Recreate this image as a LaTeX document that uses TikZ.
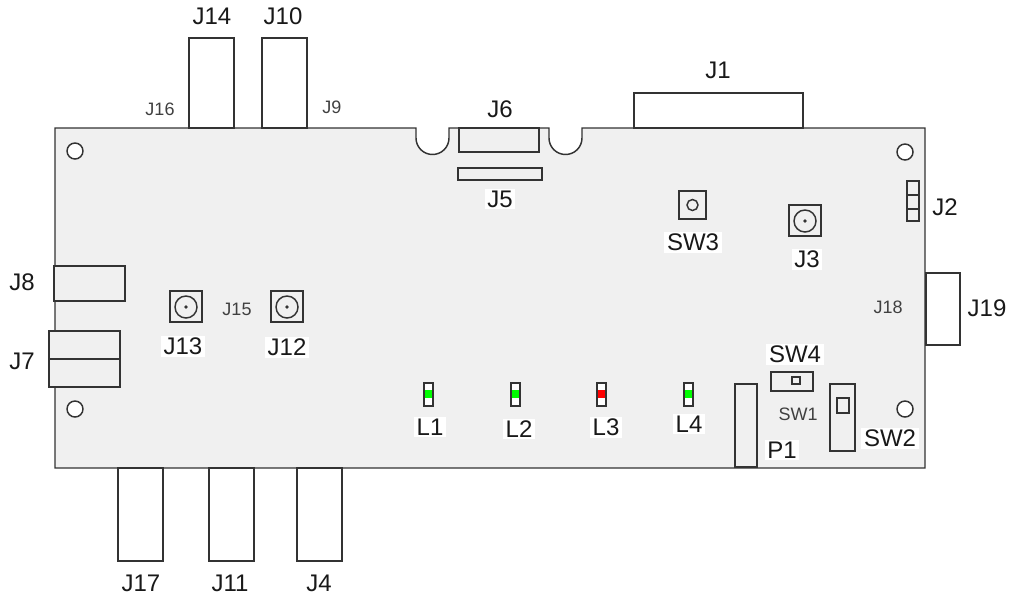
\documentclass[tikz,border=0pt]{standalone}
\usepackage{fontspec}
\setmainfont{Liberation Sans}
\tikzset{
	part/.style={draw=cline,line width=1.1pt,fill=cboard},
	outpart/.style={draw=cline,line width=1.1pt,fill=white},
	lbl/.style={fill=white,inner xsep=2pt,inner ysep=1.5pt,text=clabel,font=\fontsize{18}{19}\selectfont},
	lblsmall/.style={inner sep=0pt,text=csmall,font=\fontsize{13.5}{14}\selectfont},
}
\begin{document}
\begin{tikzpicture}[x=0.75pt,y=-0.75pt]
			\definecolor{cline}{rgb}{0.2,0.2,0.2}
			\definecolor{cboard}{rgb}{0.941,0.941,0.941}
			\definecolor{clabel}{rgb}{0.1,0.1,0.1}
			\definecolor{csmall}{rgb}{0.25,0.25,0.25}
			\definecolor{cgreen}{rgb}{0.0,1.0,0.0}
			\definecolor{cred}{rgb}{1.0,0.0,0.0}
			%
			\useasboundingbox (0,0) rectangle (1009,597);
			%
			\draw[part] (55,128) -- (416,128) -- (416,138) arc (180:0:16.5) -- (449,128) -- (549,128) -- (549,138) arc (180:0:16.5) -- (582,128) -- (925,128) -- (925,468) -- (55,468) -- cycle;
			%
			\draw[outpart] (189,38) rectangle (234,128);
			\draw[outpart] (262,38) rectangle (307,128);
			\draw[outpart] (634,93) rectangle (803,128);
			\draw[part] (459,128) rectangle (539,152);
			\draw[part] (458,168) rectangle (542,180);
			\draw[part] (54,266) rectangle (125,301);
			\draw[part] (49,331) rectangle (120,387);
			\draw[part] (49,359) -- (120,359);
			\draw[outpart] (926,273) rectangle (960,345);
			\draw[outpart] (118,468) rectangle (163,561);
			\draw[outpart] (209,468) rectangle (254,561);
			\draw[outpart] (297,468) rectangle (342,561);
			\draw[part] (735,384) rectangle (757,467);
			\draw[part] (771,372) rectangle (813,391);
			\draw[part] (792,377) rectangle (800,384);
			\draw[part] (830,384) rectangle (855,451);
			\draw[part] (837,398) rectangle (849,413);
			\draw[part] (907,181) rectangle (919,221);
			\draw[part] (907,195) -- (919,195);
			\draw[part] (907,209) -- (919,209);
			%
			\draw[part] (679,191) rectangle (706,219);
			\draw[part] (692.5,205) circle (5.5);
			\draw[part] (789,205) rectangle (821,236);
			\draw[part] (805,221) circle (11);
			\fill[cline] (805,221) circle (1.8);
			\draw[part] (170,291) rectangle (202,322);
			\draw[part] (186,307) circle (11);
			\fill[cline] (186,307) circle (1.8);
			\draw[part] (271,291) rectangle (303,322);
			\draw[part] (287,307) circle (11);
			\fill[cline] (287,307) circle (1.8);
			%
			\draw[outpart] (75,151) circle (8);
			\draw[outpart] (905,152) circle (8);
			\draw[outpart] (75,409) circle (8);
			\draw[outpart] (905,409) circle (8);
			%
			\foreach \ledx/\ledc in {424/cgreen,511/cgreen,597/cred,684/cgreen}{
				\draw[outpart] (\ledx,383) rectangle ++(9,23);
				\fill[\ledc] (\ledx+1,390) rectangle ++(7,8);
			}
			%
			\node[lbl] (j1) at (718,70) {J1};
			\node[lbl] (j2) at (945,207) {J2};
			\node[lbl] (j3) at (807,259) {J3};
			\node[lbl] (j4) at (319,583) {J4};
			\node[lbl] (j5) at (500,199) {J5};
			\node[lbl] (j6) at (500,109) {J6};
			\node[lbl] (j7) at (22,361) {J7};
			\node[lbl] (j8) at (22,282) {J8};
			\node[lbl] (j10) at (283,16) {J10};
			\node[lbl] (j11) at (230,583) {J11};
			\node[lbl] (j12) at (287,347) {J12};
			\node[lbl] (j13) at (183,346) {J13};
			\node[lbl] (j14) at (212,16) {J14};
			\node[lbl] (j17) at (141,583) {J17};
			\node[lbl] (j19) at (987,308) {J19};
			\node[lbl] (sw2) at (890,438) {SW2};
			\node[lbl] (sw3) at (693,242) {SW3};
			\node[lbl] (sw4) at (795,354) {SW4};
			\node[lbl] (p1) at (782,450) {P1};
			\node[lbl] (l1) at (430,427) {L1};
			\node[lbl] (l2) at (519,429) {L2};
			\node[lbl] (l3) at (606,427) {L3};
			\node[lbl] (l4) at (689,424) {L4};
			%
			\node[lblsmall] (j9) at (332,107) {J9};
			\node[lblsmall] (j15) at (237,309) {J15};
			\node[lblsmall] (j16) at (160,109) {J16};
			\node[lblsmall] (j18) at (888,307) {J18};
			\node[lblsmall] (sw1) at (798,414) {SW1};
			%
		\end{tikzpicture}
\end{document}
